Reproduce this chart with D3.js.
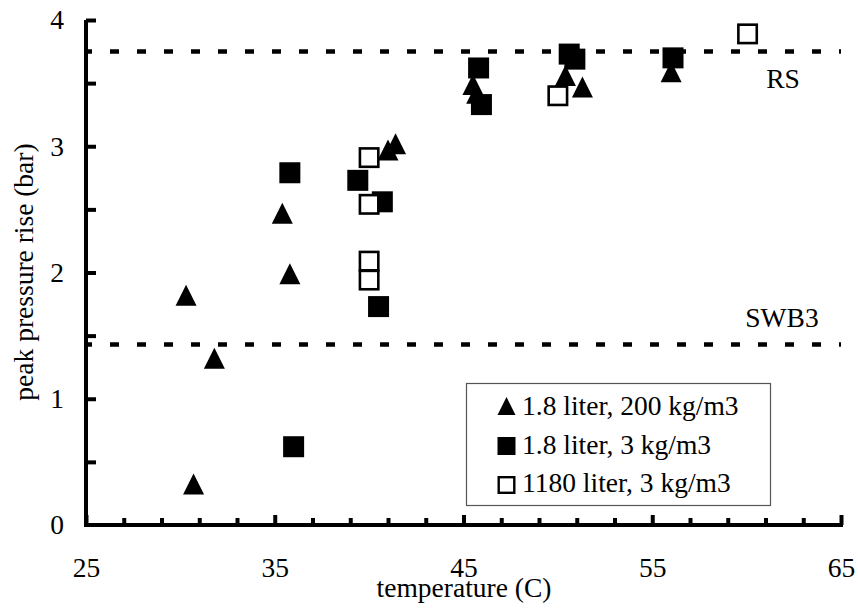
<!DOCTYPE html>
<html>
<head>
<meta charset="utf-8">
<script src="https://cdn.jsdelivr.net/npm/d3@7"></script>
<style>
  html, body { margin: 0; padding: 0; background: #fff; }
  svg { display: block; }
  svg text { font-family: "Liberation Serif", "Times New Roman", serif; fill: #000; }
</style>
</head>
<body>
<svg id="chart" width="858" height="608"></svg>
<script>
// 1.8 liter, 200 kg/m3 (filled triangles)
const triTemp  = [30.3, 30.7, 31.8, 35.4, 35.8, 41.0, 41.4, 45.5, 45.7, 50.4, 51.3, 56.0];
const triPres  = [1.82, 0.325, 1.32, 2.47, 1.99, 2.97, 3.02, 3.49, 3.42, 3.56, 3.47, 3.59];
// 1.8 liter, 3 kg/m3 (filled squares)
const sqTemp   = [35.8, 36.0, 39.4, 40.7, 40.5, 45.8, 45.95, 50.6, 50.9, 56.1];
const sqPres   = [2.79, 0.62, 2.73, 2.56, 1.73, 3.62, 3.33, 3.73, 3.69, 3.70];
// 1180 liter, 3 kg/m3 (open squares)
const openTemp = [40.0, 40.0, 40.0, 40.0, 50.0, 60.05];
const openPres = [2.91, 2.54, 2.09, 1.94, 3.40, 3.89];

const seriesNames = ["1.8 liter, 200 kg/m3", "1.8 liter, 3 kg/m3", "1180 liter, 3 kg/m3"];
const limitValues = [3.75, 1.43];
const limitNames  = ["RS", "SWB3"];

const xTicks = d3.range(25, 66, 2);
const xLabelTicks = [25, 35, 45, 55, 65];
const yTicks = d3.range(0, 4.01, 0.5);

const svg = d3.select("#chart");
const x = d3.scaleLinear().domain([25, 65]).range([86, 841]);
const y = d3.scaleLinear().domain([0, 4]).range([525, 20]);
const font = 27.5;

// reference limit lines
limitValues.forEach(v => {
  svg.append("line")
    .attr("x1", x(25)).attr("x2", x(65))
    .attr("y1", y(v)).attr("y2", y(v))
    .attr("stroke", "#000").attr("stroke-width", 4.5)
    .attr("stroke-dasharray", "9,18").attr("stroke-dashoffset", 3);
});
svg.append("text").attr("x", 783).attr("y", 88).attr("text-anchor", "middle")
  .attr("font-size", font).text(limitNames[0]);
svg.append("text").attr("x", 782).attr("y", 327).attr("text-anchor", "middle")
  .attr("font-size", font).text(limitNames[1]);

// axes
const yAxis = d3.axisLeft(y).tickValues(yTicks).tickSize(-10).tickPadding(22)
  .tickFormat(d => Number.isInteger(d) ? d3.format("d")(d) : "");
const gy = svg.append("g").attr("transform", `translate(${x(25)},0)`).call(yAxis);
gy.attr("font-family", null).attr("font-size", null);
gy.selectAll("text").attr("font-size", font);
gy.selectAll(".tick line").attr("stroke", "#000").attr("stroke-width", 4);
gy.select(".domain").attr("stroke", "#000").attr("stroke-width", 4).attr("d", `M0,${y(0) + 2}V${y(4)}`);
gy.selectAll(".tick").filter(d => d === 0).select("line").remove();

const xAxis = d3.axisBottom(x).tickValues(xTicks).tickSize(-7).tickPadding(32)
  .tickFormat(d => xLabelTicks.includes(d) ? d3.format("d")(d) : "");
const gx = svg.append("g").attr("transform", `translate(0,${y(0)})`).call(xAxis);
gx.attr("font-family", null).attr("font-size", null);
gx.selectAll("text").attr("font-size", font);
gx.selectAll(".tick line").attr("stroke", "#000").attr("stroke-width", 4)
  .attr("y2", d => xLabelTicks.includes(d) ? -10 : -7);
gx.select(".domain").attr("stroke", "#000").attr("stroke-width", 4).attr("d", `M${x(25) - 2},0H${x(65) + 2}`);

// axis titles
svg.append("text").attr("x", 464).attr("y", 597).attr("text-anchor", "middle")
  .attr("font-size", font).text("temperature (C)");
svg.append("text").attr("transform", "translate(33,272) rotate(-90)").attr("text-anchor", "middle")
  .attr("font-size", font).text("peak pressure rise (bar)");

// markers: triangle centred on its bounding box
function triPath(size) {
  return `M0,${-size / 2}L${size / 2},${size / 2}L${-size / 2},${size / 2}Z`;
}
const mSize = 21;

svg.append("g").selectAll("path").data(d3.zip(triTemp, triPres)).join("path")
  .attr("transform", d => `translate(${x(d[0])},${y(d[1])})`)
  .attr("d", triPath(mSize)).attr("fill", "#000");

svg.append("g").selectAll("rect").data(d3.zip(sqTemp, sqPres)).join("rect")
  .attr("x", d => x(d[0]) - mSize / 2).attr("y", d => y(d[1]) - mSize / 2)
  .attr("width", mSize).attr("height", mSize).attr("fill", "#000");

const inner = mSize - 2.6;
svg.append("g").selectAll("rect").data(d3.zip(openTemp, openPres)).join("rect")
  .attr("x", d => x(d[0]) - inner / 2).attr("y", d => y(d[1]) - inner / 2)
  .attr("width", inner).attr("height", inner)
  .attr("fill", "#fff").attr("stroke", "#000").attr("stroke-width", 2.6);

// legend
const lg = svg.append("g");
lg.append("rect").attr("x", 466.5).attr("y", 383.5).attr("width", 304).attr("height", 122)
  .attr("fill", "#fff").attr("stroke", "#555").attr("stroke-width", 1.2);
const rowY = [406, 446, 485];
const lSize = 18;
lg.append("path").attr("transform", `translate(506.5,${rowY[0]})`).attr("d", triPath(lSize)).attr("fill", "#000");
lg.append("rect").attr("x", 506.5 - lSize / 2).attr("y", rowY[1] - lSize / 2)
  .attr("width", lSize).attr("height", lSize).attr("fill", "#000");
lg.append("rect").attr("x", 506.5 - (lSize - 2.4) / 2).attr("y", rowY[2] - (lSize - 2.4) / 2)
  .attr("width", lSize - 2.4).attr("height", lSize - 2.4)
  .attr("fill", "#fff").attr("stroke", "#000").attr("stroke-width", 2.4);
seriesNames.forEach((name, i) => {
  lg.append("text").attr("x", 522).attr("y", [415, 454, 492][i])
    .attr("font-size", font).text(name);
});
</script>
</body>
</html>
